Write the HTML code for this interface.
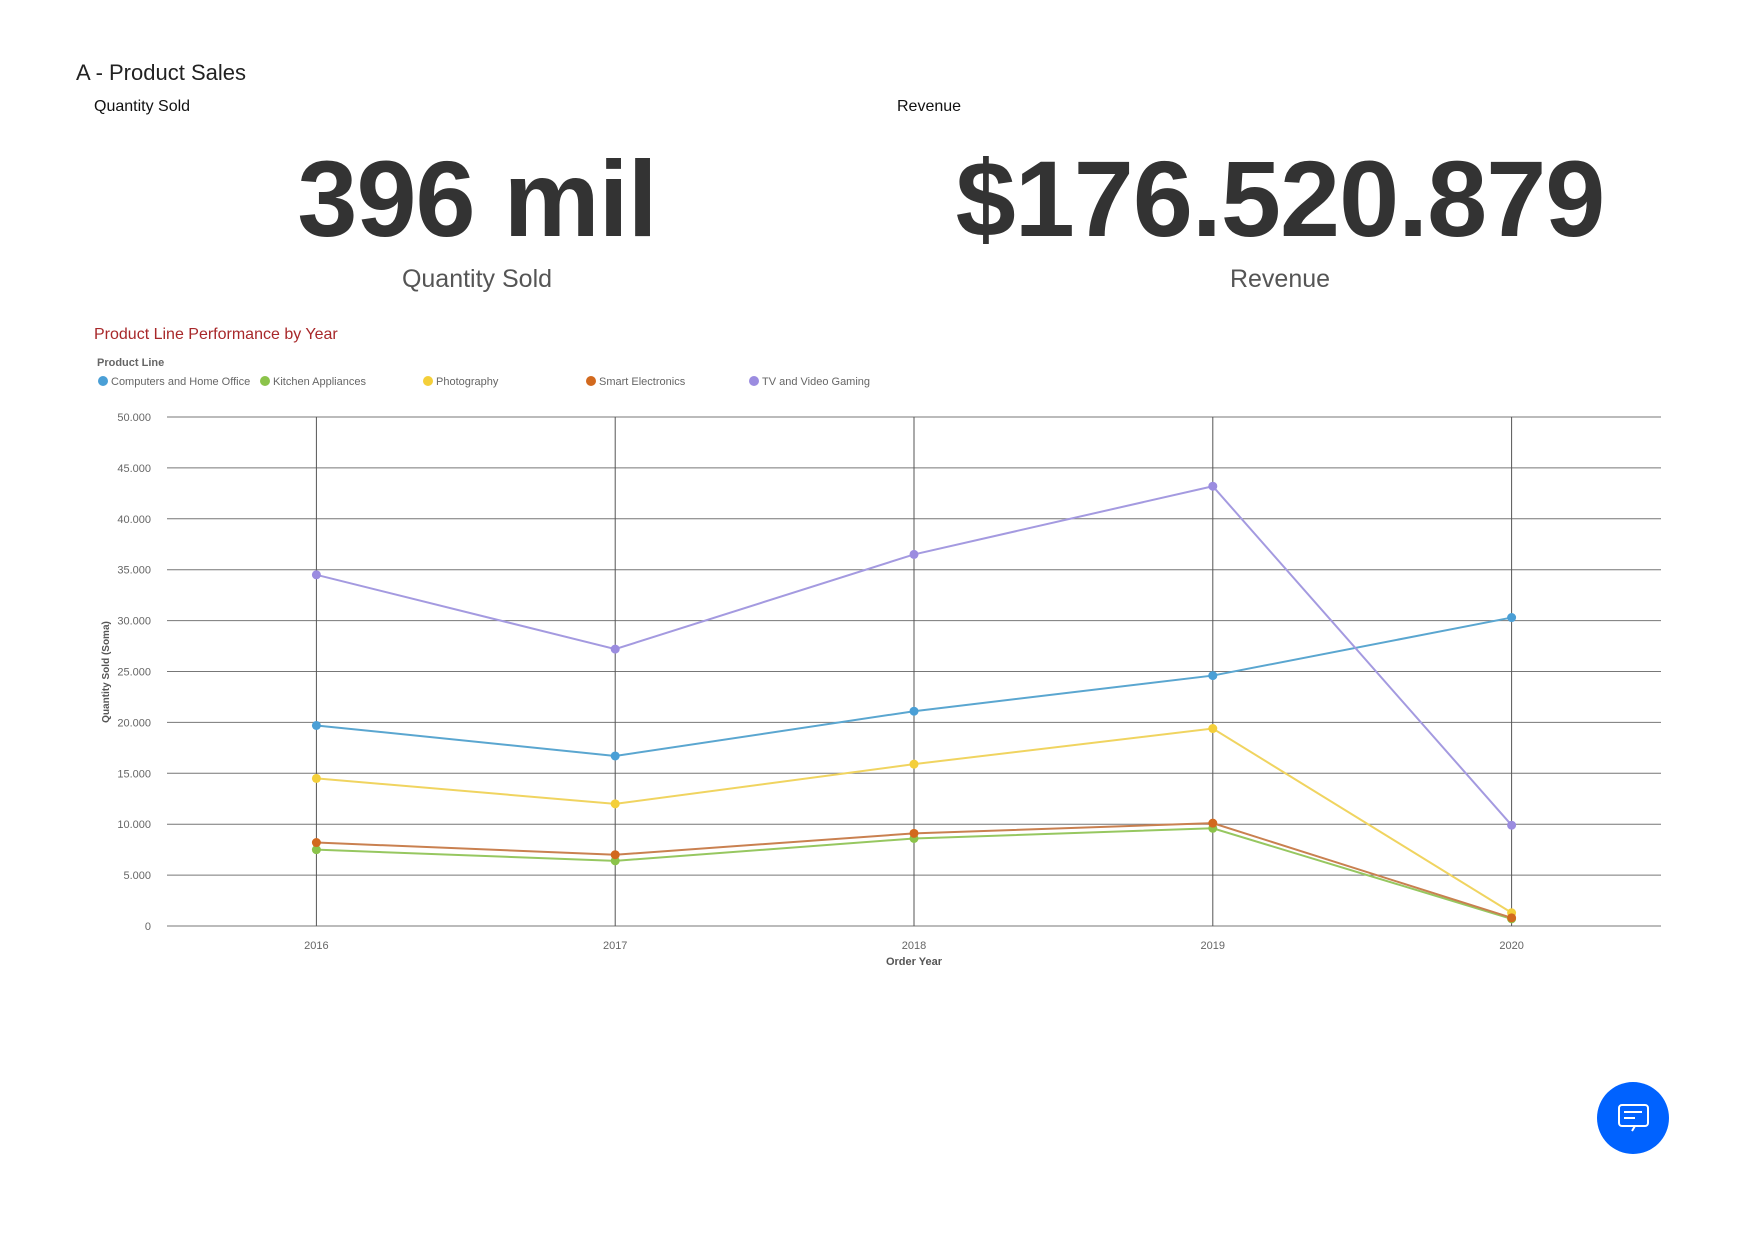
<!DOCTYPE html>
<html><head><meta charset="utf-8"><style>
body{margin:0;width:1756px;height:1240px;background:#fff;font-family:"Liberation Sans",sans-serif;overflow:hidden;position:relative}
.a{position:absolute;white-space:nowrap}
</style></head><body>
<div class="a" style="left:76px;top:60px;font-size:22px;color:#222">A - Product Sales</div>
<div class="a" style="left:94px;top:98px;font-size:16px;color:#111">Quantity Sold</div>
<div class="a" style="left:897px;top:98px;font-size:16px;color:#111">Revenue</div>
<div class="a" style="left:77px;width:800px;text-align:center;top:136px;font-size:108px;font-weight:bold;color:#333;letter-spacing:-1px">396 mil</div>
<div class="a" style="left:880px;width:800px;text-align:center;top:136px;font-size:108px;font-weight:bold;color:#333;letter-spacing:-1px">$176.520.879</div>
<div class="a" style="left:77px;width:800px;text-align:center;top:265px;font-size:25px;color:#555">Quantity Sold</div>
<div class="a" style="left:880px;width:800px;text-align:center;top:265px;font-size:25px;color:#555">Revenue</div>
<div class="a" style="left:94px;top:326px;font-size:16px;color:#a8282a">Product Line Performance by Year</div>
<div class="a" style="left:97px;top:357px;font-size:11px;font-weight:bold;color:#666">Product Line</div>
<svg id="chart" width="1756" height="1240" style="position:absolute;left:0;top:0" font-family="Liberation Sans, sans-serif"></svg>
<div class="a" style="left:1597px;top:1082px;width:72px;height:72px;border-radius:50%;background:#0062ff">
<svg width="72" height="72"><rect x="22" y="23" width="29" height="21" rx="3" fill="none" stroke="#fff" stroke-width="2"/><line x1="27" y1="30" x2="45" y2="30" stroke="#fff" stroke-width="2"/><line x1="27" y1="36" x2="38" y2="36" stroke="#fff" stroke-width="2"/><path d="M38 44 L35 49" stroke="#fff" stroke-width="2"/></svg></div>
<script>
const years=["2016","2017","2018","2019","2020"];
const seriesNames=["Computers and Home Office","Kitchen Appliances","Photography","Smart Electronics","TV and Video Gaming"];
const computers=[19700,16700,21100,24600,30300];
const kitchen=[7500,6400,8600,9600,700];
const photography=[14500,12000,15900,19400,1300];
const smart=[8200,7000,9100,10100,800];
const tv=[34500,27200,36500,43200,9900];
const yTicks=[0,5000,10000,15000,20000,25000,30000,35000,40000,45000,50000];
const yTickLabels=["0","5.000","10.000","15.000","20.000","25.000","30.000","35.000","40.000","45.000","50.000"];
const colors=["#4a9fd6","#8bc34a","#f4cf3a","#d2691e","#9b8ce0"];
const lineColors=["#5aa6d0","#96c760","#f0d460","#c98050","#a49ae0"];
const svg=document.getElementById('chart');const NS='http://www.w3.org/2000/svg';
const L=167,R=1661,T=417,B=926,ymax=50000;
const band=(R-L)/years.length;
const x=i=>L+band*(i+0.5);
const y=v=>B-(v/ymax)*(B-T);
function mk(t,a,txt){const e=document.createElementNS(NS,t);for(const k in a)e.setAttribute(k,a[k]);if(txt!=null)e.textContent=txt;svg.appendChild(e);return e;}
yTicks.forEach((v,i)=>{
 const g=mk('line',{x1:L,x2:R,y1:y(v),y2:y(v),stroke:'#777','stroke-width':1});
 
 
 const t=mk('text',{x:151,y:y(v)+4,'text-anchor':'end','font-size':11,fill:'#666'},yTickLabels[i]);
 
 
});
years.forEach((yr,i)=>{
 const g=mk('line',{x1:x(i),x2:x(i),y1:T,y2:B,stroke:'#555','stroke-width':1});
 
 
 const t=mk('text',{x:x(i),y:949,'text-anchor':'middle','font-size':11,fill:'#666'},yr);
 
 
});
const xt=mk('text',{x:(L+R)/2,y:965,'text-anchor':'middle','font-size':11,'font-weight':'bold',fill:'#555'},'Order Year');


const yt=mk('text',{x:0,y:0,'text-anchor':'middle','font-size':10,'font-weight':'bold',fill:'#555',transform:'translate(109,672) rotate(-90)'},'Quantity Sold (Soma)');


const legX=[103,265,428,591,754];
seriesNames.forEach((n,i)=>{
 const c=mk('circle',{cx:legX[i],cy:381,r:5,fill:colors[i]});
 
 
 const t=mk('text',{x:legX[i]+8,y:385,'font-size':11,fill:'#666'},n);
 
 
});
[computers,kitchen,photography,smart,tv].forEach((s,si)=>{
 const p=mk('polyline',{points:s.map((v,i)=>x(i)+','+y(v)).join(' '),fill:'none',stroke:lineColors[si],'stroke-width':2});
 
 
 s.forEach((v,i)=>{
  const c=mk('circle',{cx:x(i),cy:y(v),r:4.5,fill:colors[si]});
  
  
 });
});
</script>
</body></html>
